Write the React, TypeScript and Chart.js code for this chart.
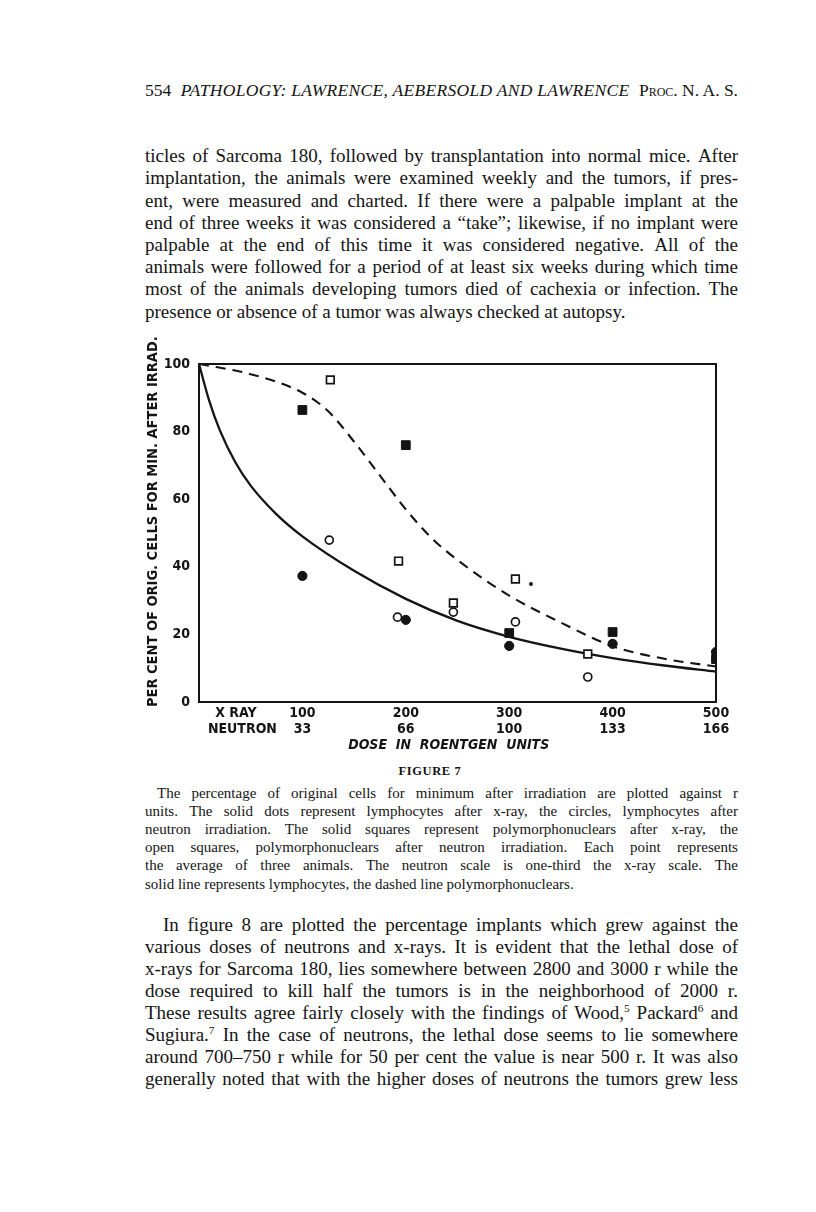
import React, { useEffect, useRef } from "react";
import { Chart, registerables } from "chart.js";
Chart.register(...registerables);

// ---------- chart data ----------
const xrayLymphX = [100, 200, 300, 400, 500];
const xrayLymphY = [37.3, 24.3, 16.6, 17.2, 14.8];

const neutronLymphX = [126, 192, 246, 306, 376];
const neutronLymphY = [47.9, 25.1, 26.6, 23.7, 7.4];

const xrayPolyX = [100, 200, 300, 400, 500];
const xrayPolyY = [86.4, 76, 20.4, 20.7, 12.7];

const neutronPolyX = [127, 193, 246, 306, 376];
const neutronPolyY = [95.3, 41.7, 29.3, 36.4, 14.2];

const speckX = [321];
const speckY = [34.9];

const lymphCurveX = [0, 10, 20, 35, 50, 75, 100, 150, 200, 250, 300, 350, 400, 450, 500];
const lymphCurveY = [100, 89, 80.5, 71, 64, 55.5, 49, 38.8, 30.5, 24, 19.3, 15.8, 13, 10.8, 9];

const polyCurveX = [0, 50, 100, 125, 150, 175, 200, 225, 250, 300, 350, 400, 450, 500];
const polyCurveY = [100, 97, 91.5, 86, 77, 67, 57, 48.5, 42, 31.5, 23.5, 16.5, 12.8, 10.5];

const xTickValues = [42, 100, 200, 300, 400, 500];
const xRayTickLabels = ["X RAY\u00A0\u00A0\u00A0", "100", "200", "300", "400", "500"];
const neutronTickLabels = ["NEUTRON", "33", "66", "100", "133", "166"];
const yTickValues = [0, 20, 40, 60, 80, 100];
const yTickLabels = ["0", "20", "40", "60", "80", "100"];

const yTitle = "\u00A0\u00A0\u00A0\u00A0\u00A0PER CENT OF ORIG. CELLS FOR MIN. AFTER IRRAD.";
const xTitle = "DOSE\u00A0 IN\u00A0 ROENTGEN\u00A0 UNITS\u00A0\u00A0\u00A0\u00A0";

// ---------- page text ----------
const headerNum = "554";
const headerTitle = "PATHOLOGY: LAWRENCE, AEBERSOLD AND LAWRENCE";
const headerJournal = "Proc. N. A. S.";

const para1Lines = [
  "ticles of Sarcoma 180, followed by transplantation into normal mice. After",
  "implantation, the animals were examined weekly and the tumors, if pres-",
  "ent, were measured and charted. If there were a palpable implant at the",
  "end of three weeks it was considered a \u201Ctake\u201D; likewise, if no implant were",
  "palpable at the end of this time it was considered negative. All of the",
  "animals were followed for a period of at least six weeks during which time",
  "most of the animals developing tumors died of cachexia or infection. The",
  "presence or absence of a tumor was always checked at autopsy.",
];

const figureLabel = "FIGURE 7";

const captionLines = [
  "The percentage of original cells for minimum after irradiation are plotted against r",
  "units. The solid dots represent lymphocytes after x-ray, the circles, lymphocytes after",
  "neutron irradiation. The solid squares represent polymorphonuclears after x-ray, the",
  "open squares, polymorphonuclears after neutron irradiation. Each point represents",
  "the average of three animals. The neutron scale is one-third the x-ray scale. The",
  "solid line represents lymphocytes, the dashed line polymorphonuclears.",
];

const para2Lines = [
  "In figure 8 are plotted the percentage implants which grew against the",
  "various doses of neutrons and x-rays. It is evident that the lethal dose of",
  "x-rays for Sarcoma 180, lies somewhere between 2800 and 3000 r while the",
  "dose required to kill half the tumors is in the neighborhood of 2000 r.",
  "These results agree fairly closely with the findings of Wood,^5 Packard^6 and",
  "Sugiura.^7 In the case of neutrons, the lethal dose seems to lie somewhere",
  "around 700\u2013750 r while for 50 per cent the value is near 500 r. It was also",
  "generally noted that with the higher doses of neutrons the tumors grew less",
];

const SERIF = '"Liberation Serif", "Times New Roman", serif';
const CHART_FONT = '"DejaVu Sans Condensed", "DejaVu Sans", sans-serif';
const INK = "#141414";

const TEXT_LEFT = 145;
const TEXT_WIDTH = 593;

function renderWithSup(text: string) {
  const parts = text.split(/\^(\d)/);
  return parts.map((p, i) =>
    i % 2 === 1 ? (
      <sup key={i} style={{ fontSize: "0.6em", lineHeight: 0, verticalAlign: "0.6em" }}>
        {p}
      </sup>
    ) : (
      <span key={i}>{p}</span>
    )
  );
}

function TextLine(props: {
  cy: number;
  text: string;
  size: number;
  indent?: number;
  last?: boolean;
}) {
  const lh = props.size * 1.25;
  const base: React.CSSProperties = {
    position: "absolute",
    left: TEXT_LEFT,
    top: props.cy - lh / 2,
    width: TEXT_WIDTH,
    height: lh,
    lineHeight: `${lh}px`,
    fontFamily: SERIF,
    fontSize: props.size,
    color: INK,
    whiteSpace: "nowrap",
    boxSizing: "border-box",
    paddingLeft: props.indent || 0,
  };
  if (props.last) {
    return <div style={base}>{renderWithSup(props.text)}</div>;
  }
  const words = props.text.split(/\s+/);
  return (
    <div style={{ ...base, display: "flex", justifyContent: "space-between" }}>
      {words.map((w, i) => (
        <span key={i} style={{ whiteSpace: "nowrap" }}>
          {renderWithSup(w)}
        </span>
      ))}
    </div>
  );
}

function FigureChart() {
  const ref = useRef<HTMLCanvasElement | null>(null);
  useEffect(() => {
    if (!ref.current) return;
    const pts = (xs: number[], ys: number[]) => xs.map((x, i) => ({ x, y: ys[i] }));
    const framePlugin = {
      id: "frame",
      afterDraw(chart: any) {
        const { ctx, chartArea } = chart;
        ctx.save();
        ctx.strokeStyle = INK;
        ctx.lineWidth = 2;
        ctx.strokeRect(
          chartArea.left,
          chartArea.top,
          chartArea.right - chartArea.left,
          chartArea.bottom - chartArea.top
        );
        ctx.restore();
      },
    };
    const chart = new Chart(ref.current, {
      type: "scatter",
      data: {
        datasets: [
          {
            label: "Lymphocytes after x-ray",
            data: pts(xrayLymphX, xrayLymphY),
            pointStyle: "circle",
            pointRadius: 4.6,
            backgroundColor: INK,
            borderColor: INK,
            borderWidth: 1,
            order: 0,
          },
          {
            label: "Lymphocytes after neutron",
            data: pts(neutronLymphX, neutronLymphY),
            pointStyle: "circle",
            pointRadius: 4,
            backgroundColor: "#ffffff",
            borderColor: INK,
            borderWidth: 1.7,
            order: 0,
          },
          {
            label: "Polymorphonuclears after x-ray",
            data: pts(xrayPolyX, xrayPolyY),
            pointStyle: "rect",
            pointRadius: 6.2,
            backgroundColor: INK,
            borderColor: INK,
            borderWidth: 1,
            order: 0,
          },
          {
            label: "Polymorphonuclears after neutron",
            data: pts(neutronPolyX, neutronPolyY),
            pointStyle: "rect",
            pointRadius: 5.4,
            backgroundColor: "#ffffff",
            borderColor: INK,
            borderWidth: 1.7,
            order: 0,
          },
          {
            label: "speck",
            data: pts(speckX, speckY),
            pointStyle: "circle",
            pointRadius: 2,
            backgroundColor: INK,
            borderColor: INK,
            borderWidth: 0,
            order: 0,
          },
          {
            label: "Lymphocytes curve",
            data: pts(lymphCurveX, lymphCurveY),
            showLine: true,
            pointRadius: 0,
            borderColor: INK,
            borderWidth: 2.3,
            cubicInterpolationMode: "monotone",
            fill: false,
            order: 10,
          } as any,
          {
            label: "Polymorphonuclears curve",
            data: pts(polyCurveX, polyCurveY),
            showLine: true,
            pointRadius: 0,
            borderColor: INK,
            borderWidth: 2.1,
            borderDash: [10, 7],
            cubicInterpolationMode: "monotone",
            fill: false,
            order: 10,
          } as any,
        ],
      },
      options: {
        animation: false,
        responsive: false,
        devicePixelRatio: 1,
        layout: { padding: { top: 34, right: 36, left: 0, bottom: 0 } },
        plugins: {
          legend: { display: false },
          tooltip: { enabled: false },
        },
        scales: {
          x: {
            type: "linear",
            min: 0,
            max: 500,
            grid: { display: false, drawTicks: false },
            border: { display: false },
            afterBuildTicks: (axis: any) => {
              axis.ticks = xTickValues.map((v) => ({ value: v }));
            },
            afterFit: (scale: any) => {
              scale.height = 58;
            },
            ticks: {
              autoSkip: false,
              maxRotation: 0,
              minRotation: 0,
              padding: 4,
              color: INK,
              font: { family: CHART_FONT, size: 14, weight: "bold", lineHeight: 1.12 },
              callback: (_v: any, i: number) => [xRayTickLabels[i], neutronTickLabels[i]],
            },
            title: {
              display: true,
              text: xTitle,
              color: INK,
              font: { family: CHART_FONT, size: 14, weight: "bold", style: "italic", lineHeight: 1.15 },
              padding: { top: 0, bottom: 7 },
            },
          },
          y: {
            type: "linear",
            min: 0,
            max: 100,
            grid: { display: false, drawTicks: false },
            border: { display: false },
            afterBuildTicks: (axis: any) => {
              axis.ticks = yTickValues.map((v) => ({ value: v }));
            },
            afterFit: (scale: any) => {
              scale.width = 59;
            },
            ticks: {
              padding: 9,
              color: INK,
              font: { family: CHART_FONT, size: 14, weight: "bold" },
              callback: (_v: any, i: number) => yTickLabels[i],
            },
            title: {
              display: true,
              text: yTitle,
              color: INK,
              font: { family: CHART_FONT, size: 14.5, weight: "bold", lineHeight: 1.15 },
              padding: { top: 5, bottom: 0 },
            },
          },
        },
      },
      plugins: [framePlugin],
    } as any);
    return () => chart.destroy();
  }, []);
  return (
    <div style={{ position: "absolute", left: 140, top: 330, width: 612, height: 430 }}>
      <canvas ref={ref} width={612} height={430} style={{ width: 612, height: 430, display: "block" }} />
    </div>
  );
}

export default function App() {
  return (
    <div
      style={{
        position: "absolute",
        left: 0,
        top: 0,
        width: 816,
        height: 1212,
        background: "#ffffff",
        overflow: "hidden",
      }}
    >
      {/* running header */}
      <div
        style={{
          position: "absolute",
          left: TEXT_LEFT,
          top: 90 - 11,
          width: TEXT_WIDTH,
          height: 22,
          lineHeight: "22px",
          fontFamily: SERIF,
          fontSize: 17.5,
          color: INK,
          display: "flex",
          justifyContent: "space-between",
          whiteSpace: "nowrap",
        }}
      >
        <span>{headerNum}</span>
        <span style={{ fontStyle: "italic", letterSpacing: 0.3 }}>{headerTitle}</span>
        <span style={{ fontVariant: "small-caps" }}>{headerJournal}</span>
      </div>

      {para1Lines.map((t, i) => (
        <TextLine key={"p1" + i} cy={156 + i * 22.2} text={t} size={19} last={i === para1Lines.length - 1} />
      ))}

      <FigureChart />

      <div
        style={{
          position: "absolute",
          left: 380,
          top: 771 - 8,
          width: 100,
          height: 16,
          lineHeight: "16px",
          textAlign: "center",
          fontFamily: SERIF,
          fontSize: 12.5,
          fontWeight: "bold",
          letterSpacing: 0.6,
          color: INK,
        }}
      >
        {figureLabel}
      </div>

      {captionLines.map((t, i) => (
        <TextLine
          key={"c" + i}
          cy={793 + i * 18.2}
          text={t}
          size={15}
          indent={i === 0 ? 12 : 0}
          last={i === captionLines.length - 1}
        />
      ))}

      {para2Lines.map((t, i) => (
        <TextLine key={"p2" + i} cy={925 + i * 22} text={t} size={19} indent={i === 0 ? 18 : 0} />
      ))}
    </div>
  );
}
